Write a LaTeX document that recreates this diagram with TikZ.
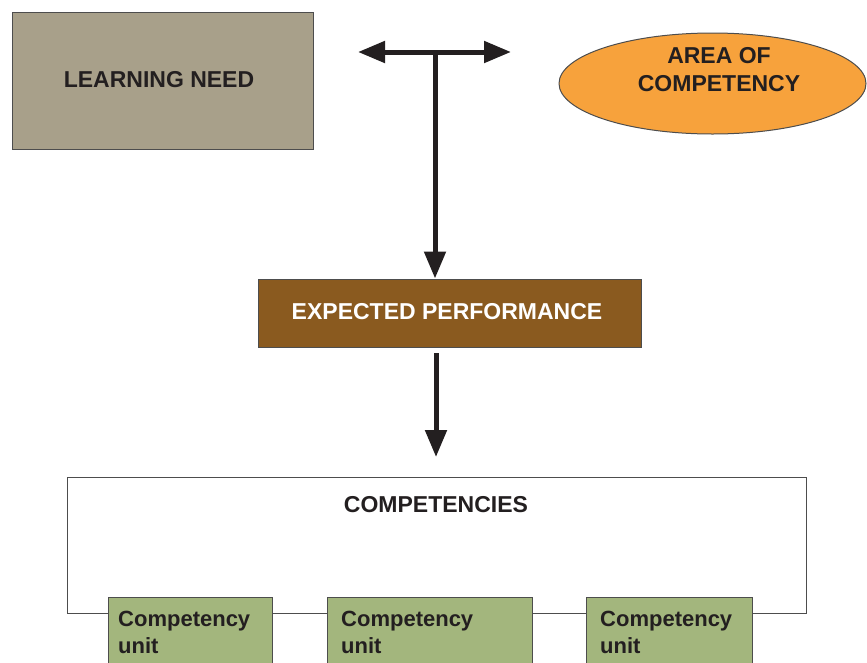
\documentclass[tikz,border=0pt]{standalone}
\usepackage{fontspec}
\setmainfont{Liberation Sans}
\usetikzlibrary{arrows.meta,shapes.geometric}
\definecolor{txt}{HTML}{231F20}
\definecolor{needfill}{HTML}{A8A08A}
\definecolor{areafill}{HTML}{F7A23C}
\definecolor{perffill}{HTML}{8A5A1F}
\definecolor{unitfill}{HTML}{A3B67D}
\definecolor{edge}{HTML}{4D4D4D}
\begin{document}
\begin{tikzpicture}[x=1pt,y=-1pt,
  font=\fontsize{23}{28}\selectfont\bfseries,
  box/.style={draw=edge, line width=1pt, inner sep=0pt, text=txt},
  unitbox/.style={draw=edge, line width=1pt, fill=unitfill,
    anchor=north west, minimum width=164pt, minimum height=90pt, inner sep=0pt},
  unittext/.style={text=txt, anchor=north west, align=left, inner sep=0pt,
    font=\fontsize{22}{27}\selectfont\bfseries},
  arr/.style={line width=5pt, draw=txt, -{Triangle[length=27pt,width=21pt]}}]
\clip (0,0) rectangle (867,662);
\fill[white] (0,0) rectangle (867,662);
\node[box, fill=needfill, minimum width=301pt, minimum height=137pt] (need) at (162.5,80.5) {};
\node[text=txt] (needtext) at (159,79.5) {LEARNING NEED};
\node[box, ellipse, fill=areafill, minimum width=307pt, minimum height=101pt] (area) at (712.5,83.5) {};
\node[text=txt, align=center] (areatext) at (719,70) {AREA OF\\COMPETENCY};
\node[box, fill=perffill, text=white, minimum width=383pt, minimum height=68pt] (perf) at (449.5,313) {};
\node[text=white] (perftext) at (447,312) {EXPECTED PERFORMANCE};
\node[box, anchor=north west, minimum width=739pt, minimum height=136pt] (comp) at (67,477) {};
\node[text=txt] (comptitle) at (436,505) {COMPETENCIES};
\node[unitbox] (u1) at (108,597) {};
\node[unitbox, minimum width=205pt] (u2) at (327,597) {};
\node[unitbox, minimum width=166pt] (u3) at (586,597) {};
\node[unittext] (u1t) at (118,611) {Competency\\unit};
\node[unittext] (u2t) at (341,611) {Competency\\unit};
\node[unittext] (u3t) at (600,611) {Competency\\unit};
\coordinate (J) at (435,52);
\coordinate (L) at (358,52);
\coordinate (R) at (511,52);
\draw[arr] (J) -- (L);
\draw[arr] (J) -- (R);
\draw[arr] (J) -- (J |- perf.north);
\coordinate (s) at (436,353);
\coordinate (t) at (436,457);
\draw[arr] (s) -- (t);
\end{tikzpicture}
\end{document}
